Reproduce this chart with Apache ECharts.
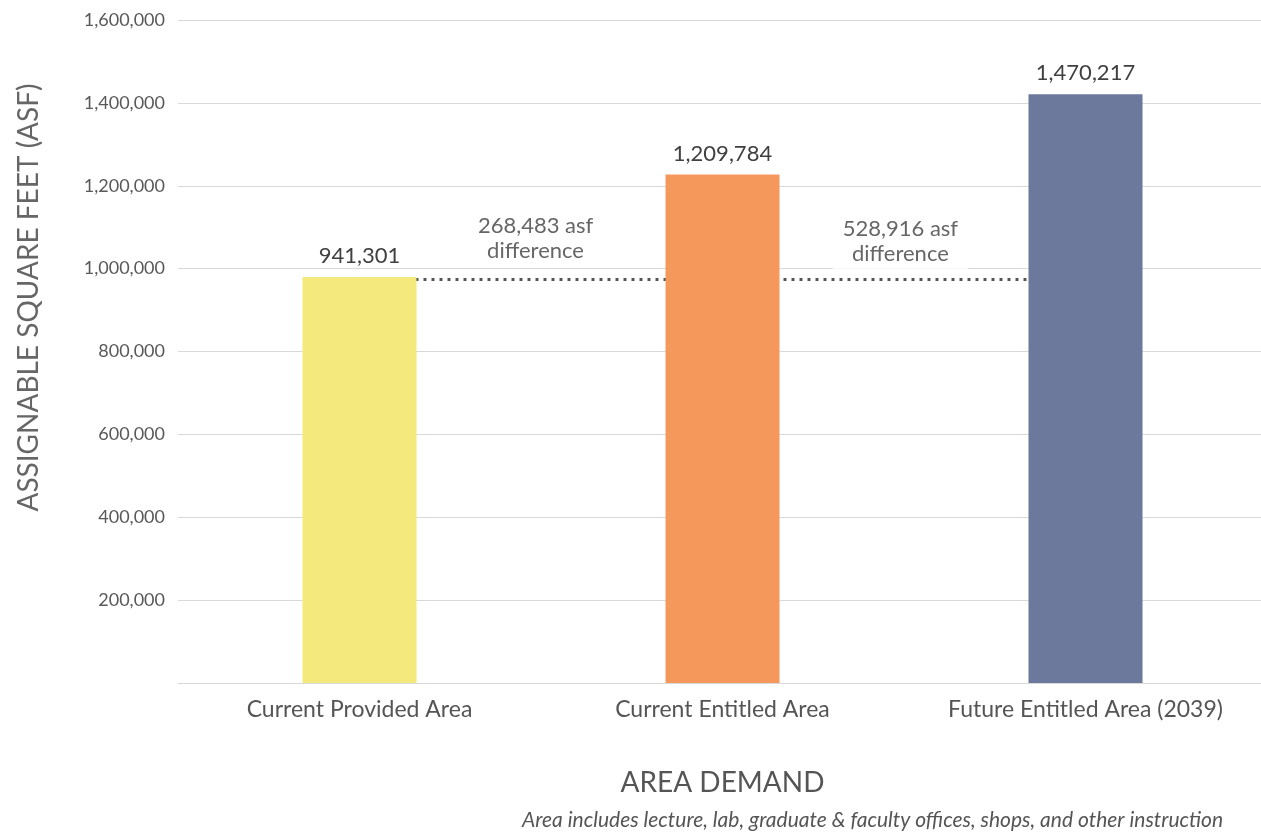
<!DOCTYPE html>
<html>
<head>
<meta charset="utf-8">
<script src="https://cdn.jsdelivr.net/npm/echarts@6/dist/echarts.min.js"></script>
<style>
html,body{margin:0;padding:0;background:#fff;}
#chart{width:1261px;height:834px;}
</style>
</head>
<body>
<div id="chart"></div>
<script>
// ---- data ----
const categories = ['Current Provided Area', 'Current Entitled Area', 'Future Entitled Area (2039)'];
const barValues = [980000, 1227000, 1421000];          // drawn bar heights
const barLabels = ['941,301', '1,209,784', '1,470,217']; // printed value labels
const barColors = ['#F3E97D', '#F5985B', '#6D789D'];
const refLineValues = [974000, 974000, 974000];          // dotted reference line
const diffLabels = ['268,483 asf\ndifference', '528,916 asf\ndifference'];
const diffPoints = [[0.485, 1074000], [1.49, 1066000]];
const yTicks = [0, 200000, 400000, 600000, 800000, 1000000, 1200000, 1400000, 1600000];

const FONT = 'Lato, "Open Sans", sans-serif';
const chart = echarts.init(document.getElementById('chart'));

chart.setOption({
  animation: false,
  backgroundColor: '#ffffff',
  title: {
    text: 'Area includes lecture, lab, graduate & faculty offices, shops, and other instruction',
    left: 522, top: 810, padding: 0,
    textStyle: {fontFamily: FONT, fontStyle: 'italic', fontWeight: 'normal', fontSize: 21, color: '#555555'}
  },
  grid: {left: 178, width: 1089, top: 20, height: 663, containLabel: false, outerBoundsMode: 'none'},
  xAxis: [{
    type: 'category',
    data: categories,
    name: 'AREA DEMAND',
    nameLocation: 'middle',
    nameGap: 86,
    nameTextStyle: {fontFamily: FONT, fontSize: 28, color: '#555555'},
    axisLine: {lineStyle: {color: '#d9d9d9', width: 1}},
    axisTick: {show: false},
    axisLabel: {fontFamily: FONT, fontSize: 23, color: '#555555', margin: 15},
    splitLine: {show: false}
  }, {
    type: 'value', min: -0.5, max: 2.5, show: false
  }],
  yAxis: {
    type: 'value',
    min: 0, max: yTicks[yTicks.length - 1], interval: yTicks[1] - yTicks[0],
    name: 'ASSIGNABLE SQUARE FEET (ASF)',
    nameLocation: 'middle',
    nameGap: 135,
    nameRotate: 90,
    nameTextStyle: {fontFamily: FONT, fontSize: 28, color: '#666666', padding: [0, 0, 0, 108]},
    axisLine: {show: false},
    axisTick: {show: false},
    axisLabel: {
      fontFamily: FONT, fontSize: 18, color: '#595959', margin: 13,
      formatter: v => v === 0 ? '' : v.toLocaleString('en-US')
    },
    splitLine: {lineStyle: {color: '#d9d9d9', width: 1}}
  },
  series: [{
    type: 'line',
    xAxisIndex: 0,
    data: refLineValues,
    symbol: 'none',
    z: 1,
    lineStyle: {color: '#555555', width: 3, type: [3, 5], cap: 'butt'},
    silent: true
  }, {
    type: 'bar',
    xAxisIndex: 0,
    z: 3,
    barWidth: 114,
    data: barValues.map((v, i) => ({value: v, itemStyle: {color: barColors[i]}})),
    label: {
      show: true, position: 'top', distance: 10,
      fontFamily: FONT, fontSize: 22, color: '#404040',
      formatter: p => barLabels[p.dataIndex]
    }
  }, {
    type: 'scatter',
    xAxisIndex: 1,
    z: 2,
    symbolSize: 0,
    data: diffPoints,
    label: {
      show: true, position: 'inside',
      fontFamily: FONT, fontSize: 22, color: '#404040', lineHeight: 25,
      align: 'center', verticalAlign: 'middle',
      backgroundColor: '#ffffff', padding: [2, 10, 6, 10],
      formatter: p => diffLabels[p.dataIndex]
    },
    silent: true
  }]
});
</script>
</body>
</html>
